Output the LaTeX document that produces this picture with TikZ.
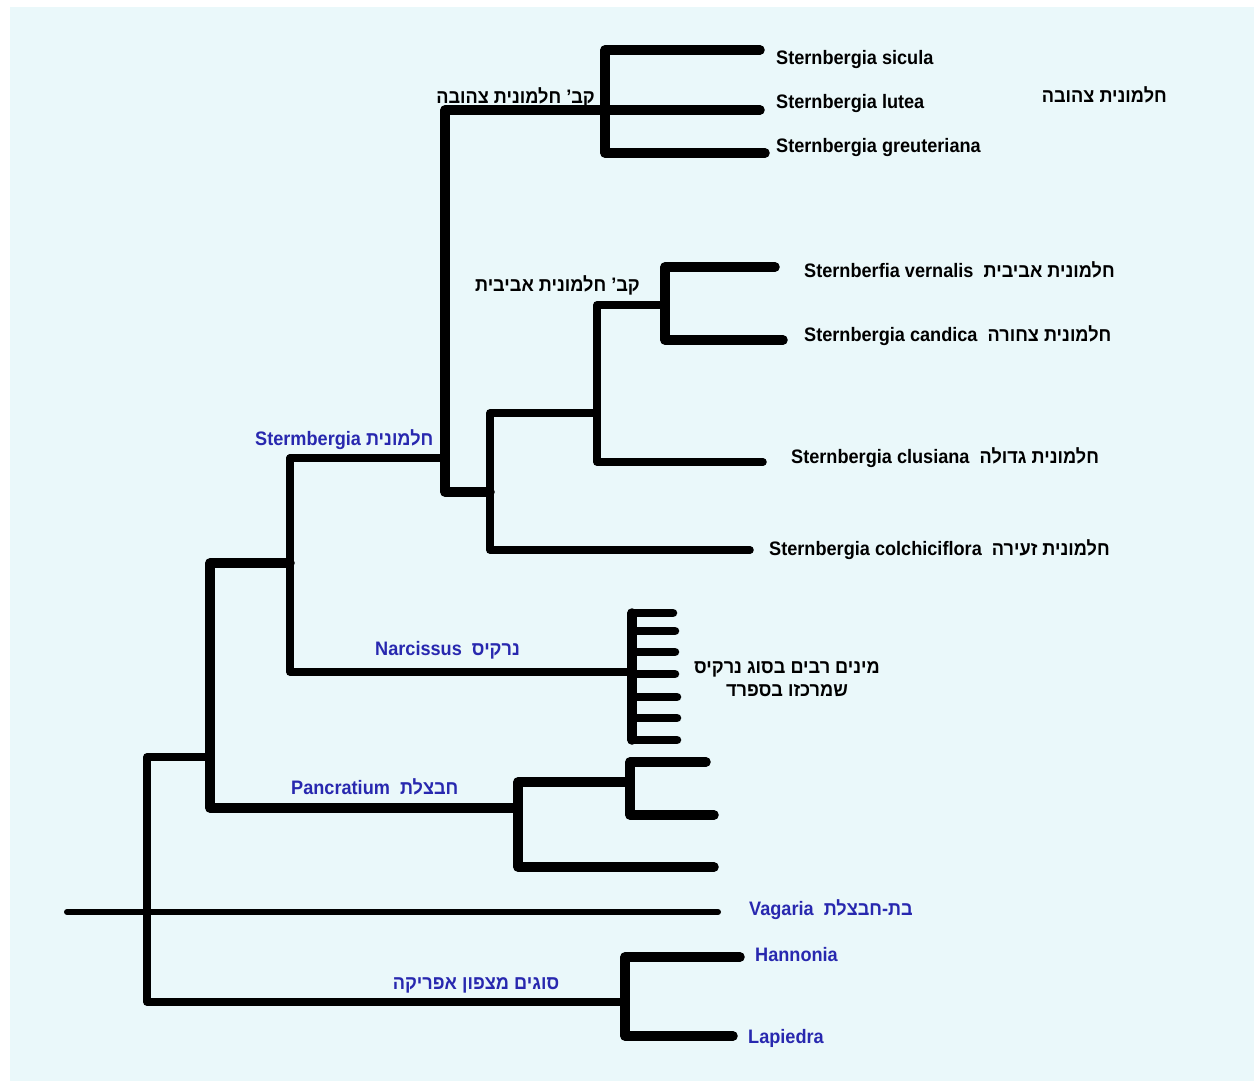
\documentclass[tikz,border=0pt]{standalone}
\usepackage{graphicx}
\usepackage{fontspec}
\setmainfont{Liberation Sans}
\newfontfamily\hebfont[Script=Hebrew]{Liberation Sans}
\TeXXeTstate=1
\newcommand{\hebtxt}[1]{{\hebfont\beginR #1\endR}}
\newcommand{\sqz}[1]{\scalebox{0.93}[1]{#1}}
\definecolor{paper}{RGB}{234,248,250}
\definecolor{genus}{RGB}{40,40,175}
\begin{document}
\begin{tikzpicture}[x=1pt,y=-1pt,
  br/.style={draw=black,line width=9.5pt,line cap=round,line join=round},
  brthin/.style={draw=black,line width=7.5pt,line cap=round,line join=round},
  brvag/.style={draw=black,line width=6pt,line cap=round},
  lbl/.style={font=\fontsize{19.5}{23}\selectfont\bfseries,inner sep=0pt,text=black},
  glbl/.style={lbl,text=genus}]
\useasboundingbox (0,0) rectangle (1254,1081);
\fill[white] (0,0) rectangle (1254,1081);
\fill[paper] (10,7) rectangle (1254,1081);

% tips
\coordinate (tSic) at (760,50);
\coordinate (tLut) at (760,110);
\coordinate (tGre) at (765,153);
\coordinate (tVer) at (775,267);
\coordinate (tCan) at (783,340);
\coordinate (tClu) at (763,462);
\coordinate (tCol) at (750,550);
\coordinate (tN1) at (673,613);
\coordinate (tN2) at (675,631);
\coordinate (tN3) at (675,652);
\coordinate (tN4) at (675,674);
\coordinate (tN5) at (677,697);
\coordinate (tN6) at (677,718);
\coordinate (tN7) at (677,740);
\coordinate (tP1) at (706,762);
\coordinate (tP2) at (714,815);
\coordinate (tP3) at (714,867);
\coordinate (tVag) at (718,912);
\coordinate (vagS) at (67,912);
\coordinate (tHan) at (740,957);
\coordinate (tLap) at (733,1036);
% internal nodes
\coordinate (yel) at (605,110);
\coordinate (ster) at (445,458);
\coordinate (B) at (490,492);
\coordinate (C) at (597,413);
\coordinate (spr) at (665,305);
\coordinate (SN) at (290,563);
\coordinate (nar) at (632,672);
\coordinate (A) at (210,757);
\coordinate (pan) at (518,808);
\coordinate (pan2) at (630,782);
\coordinate (root) at (147,912);
\coordinate (afr) at (625,1002);

% branches
\draw[br] (tSic) -- (tSic -| yel) -- (tGre -| yel) -- (tGre);
\draw[br] (tLut) -- (tLut -| ster) -- (ster |- B) -- (B);
\draw[brthin] (SN |- ster) -- (ster);
\draw[brthin] (C) -- (C -| B) -- (tCol -| B) -- (tCol);
\draw[brthin] (spr) -- (spr -| C) -- (tClu -| C) -- (tClu);
\draw[br] (tVer) -- (tVer -| spr) -- (tCan -| spr) -- (tCan);
\draw[brthin] (SN |- ster) -- (nar -| SN) -- (nar);
\draw[br] (tN1 -| nar) -- (tN7 -| nar);
\foreach \t in {tN1,tN2,tN3,tN4,tN5,tN6,tN7} \draw[br,line width=8.5pt] (\t -| nar) -- (\t);
\draw[br] (SN) -- (SN -| A) -- (pan -| A) -- (pan);
\draw[br] (pan2) -- (pan2 -| pan) -- (tP3 -| pan) -- (tP3);
\draw[br] (tP1) -- (tP1 -| pan2) -- (tP2 -| pan2) -- (tP2);
\draw[brthin] (A) -- (A -| root) -- (afr -| root) -- (afr);
\draw[br] (tHan) -- (tHan -| afr) -- (tLap -| afr) -- (tLap);
\draw[brvag] (vagS) -- (tVag);

% labels
\node[lbl,anchor=west] (lSic) at (776,60) {\sqz{Sternbergia sicula}};
\node[lbl,anchor=west] (lLut) at (776,104) {\sqz{Sternbergia lutea}};
\node[lbl,anchor=west] (lGre) at (776,148) {\sqz{Sternbergia greuteriana}};
\node[lbl,anchor=east] (lYelH) at (1167,95) {\sqz{\hebtxt{חלמונית צהובה}}};
\node[lbl,anchor=east] (lYelC) at (595,97) {\sqz{\hebtxt{קב’ חלמונית צהובה}}};
\node[lbl,anchor=west] (lVer) at (804,270) {\sqz{Sternberfia vernalis\ \ \hebtxt{חלמונית אביבית}}};
\node[lbl,anchor=west] (lCan) at (804,336) {\sqz{Sternbergia candica\ \ \hebtxt{חלמונית צחורה}}};
\node[lbl,anchor=west] (lClu) at (791,458) {\sqz{Sternbergia clusiana\ \ \hebtxt{חלמונית גדולה}}};
\node[lbl,anchor=west] (lCol) at (769,550) {\sqz{Sternbergia colchiciflora\ \ \hebtxt{חלמונית זעירה}}};
\node[lbl,anchor=east] (lSprC) at (640,285) {\sqz{\hebtxt{קב’ חלמונית אביבית}}};
\node[glbl,anchor=west] (lSter) at (255,440) {\sqz{Stermbergia \hebtxt{חלמונית}}};
\node[glbl,anchor=west] (lNar) at (375,650) {\sqz{Narcissus\ \ \hebtxt{נרקיס}}};
\node[lbl,align=center] (lNarSp) at (787,679) {\sqz{\hebtxt{מינים רבים בסוג נרקיס}}\\\sqz{\hebtxt{שמרכזו בספרד}}};
\node[glbl,anchor=west] (lPan) at (291,787) {\sqz{Pancratium\ \ \hebtxt{חבצלת}}};
\node[glbl,anchor=west] (lVag) at (749,910) {\sqz{Vagaria\ \ \hebtxt{בת-חבצלת}}};
\node[glbl,anchor=west] (lHan) at (755,955) {\sqz{Hannonia}};
\node[glbl,anchor=west] (lLap) at (748,1038) {\sqz{Lapiedra}};
\node[glbl] (lAfr) at (476,985) {\sqz{\hebtxt{סוגים מצפון אפריקה}}};
\end{tikzpicture}
\end{document}
